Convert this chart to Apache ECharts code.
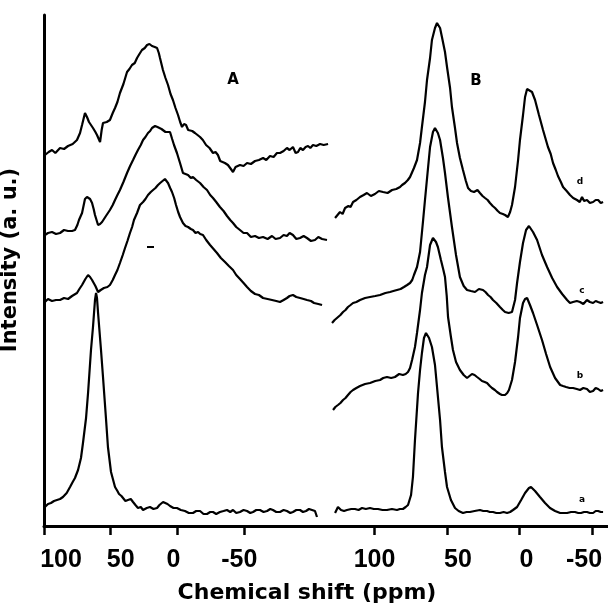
<!DOCTYPE html>
<html>
<head>
<meta charset="utf-8">
<script src="https://cdn.jsdelivr.net/npm/echarts@6/dist/echarts.min.js"></script>
<style>html,body{margin:0;padding:0;background:#fff}#c{width:608px;height:606px}</style>
</head>
<body>
<div id="c"></div>
<script>
// ---- tick labels (ppm) ----
const tickValuesA = [100, 50, 0, -50];
const tickValuesB = [100, 50, 0, -50];
const seriesNames = ['a', 'b', 'c', 'd'];
const panelNames = ['A', 'B'];

// ---- Panel A spectra: [chemical shift (ppm), intensity (a.u.)] ----
const specA_d = [[99.3,371],[96.5,374],[94.0,376],[91.5,373],[88.0,378],[85.0,377],[82.0,380],[78.5,382],[75.3,386],[73.0,393],[71.5,401],[69.3,413],[67.8,409],[66.3,404],[63.3,398],[61.5,394],[60.3,391],[58.0,384],[56.8,396],[55.8,403],[53.0,404],[50.6,406],[48.5,413],[46.8,418],[45.0,424],[43.1,433],[40.5,442],[37.8,454],[36.0,457],[34.1,461],[32.0,463],[30.3,468],[28.5,472],[26.6,476],[24.5,478],[22.8,481],[21.0,482],[19.1,480],[17.0,479],[15.3,478],[14.0,473],[13.1,468],[10.9,456],[9.0,448],[7.1,441],[5.2,432],[3.4,426],[1.5,418],[-0.4,411],[-2.0,404],[-3.4,399],[-4.9,402],[-6.4,401],[-8.0,396],[-9.4,398],[-11.0,395],[-13.1,393],[-15.0,391],[-16.9,389],[-19.0,386],[-21.4,381],[-24.0,378],[-26.6,373],[-28.5,374],[-30.3,371],[-32.0,365],[-33.3,366],[-35.5,363],[-37.8,361],[-40.0,357],[-41.6,354],[-43.5,359],[-46.8,361],[-49.5,360],[-52.1,363],[-55.0,362],[-58.1,365],[-61.0,366],[-64.1,368],[-66.5,366],[-69.3,370],[-72.0,369],[-74.5,373],[-76.8,373],[-79.5,375],[-82.0,378],[-84.0,376],[-86.5,379],[-88.5,373],[-90.3,374],[-92.0,378],[-94.0,376],[-96.0,379],[-97.8,380],[-99.5,378],[-101.5,381],[-104.0,380],[-106.8,382],[-109.5,381],[-112.8,382]];
const specA_c = [[99.3,291],[97.0,293],[94.0,294],[91.0,292],[88.0,293],[85.0,296],[82.0,295],[79.0,295],[76.8,296],[75.0,301],[73.8,306],[71.5,313],[69.3,327],[67.8,329],[65.5,327],[64.0,323],[62.8,317],[61.8,311],[59.5,301],[58.0,302],[56.5,304],[53.6,310],[50.6,316],[48.5,321],[46.8,326],[45.0,331],[43.1,336],[40.5,344],[37.8,353],[35.5,360],[33.3,366],[31.5,371],[29.6,376],[27.5,381],[25.8,386],[24.0,389],[22.1,393],[20.5,395],[19.1,398],[16.8,400],[15.0,399],[13.8,398],[12.0,397],[10.9,396],[9.0,394],[7.9,395],[5.6,394],[4.0,387],[2.6,381],[0.4,373],[-1.9,363],[-4.1,353],[-6.0,352],[-7.9,351],[-10.0,348],[-11.6,349],[-14.0,346],[-16.9,343],[-19.5,339],[-22.1,336],[-24.5,331],[-26.6,328],[-29.0,324],[-31.8,319],[-34.5,315],[-37.1,310],[-39.5,306],[-41.6,303],[-44.0,299],[-46.8,296],[-49.5,293],[-52.1,293],[-55.0,289],[-58.1,290],[-61.0,288],[-64.1,289],[-67.5,287],[-70.8,290],[-73.5,287],[-76.8,288],[-79.5,291],[-82.0,290],[-84.0,293],[-86.5,291],[-89.0,287],[-91.8,288],[-94.5,290],[-97.0,288],[-100.0,285],[-103.0,286],[-105.5,289],[-108.3,287],[-112.0,286]];
const specA_b = [[99.3,224],[97.0,227],[94.0,225],[91.0,226],[88.0,226],[85.0,228],[82.0,227],[79.0,230],[75.3,233],[73.5,237],[71.5,241],[69.0,247],[67.0,251],[65.5,249],[64.0,246],[61.5,240],[59.5,234],[57.5,236],[55.1,238],[52.5,239],[50.6,241],[48.5,246],[46.8,251],[45.0,256],[43.1,263],[41.0,271],[39.3,278],[37.5,285],[35.6,293],[34.0,299],[32.6,306],[30.3,313],[28.1,321],[25.8,324],[24.0,327],[22.1,331],[20.0,334],[18.3,336],[16.5,338],[14.6,341],[13.0,343],[11.6,345],[9.4,347],[7.1,343],[5.5,338],[4.1,334],[2.5,328],[1.1,321],[-0.5,314],[-1.9,309],[-4.1,303],[-6.0,300],[-7.9,299],[-10.0,297],[-11.6,296],[-13.5,293],[-15.4,294],[-17.0,292],[-19.1,291],[-21.5,286],[-24.4,281],[-27.0,277],[-29.6,273],[-32.5,268],[-35.6,264],[-38.5,260],[-41.6,256],[-44.0,251],[-46.8,247],[-49.5,243],[-52.1,239],[-55.0,235],[-58.1,232],[-61.0,231],[-64.1,228],[-67.5,227],[-70.8,226],[-74.0,225],[-76.8,224],[-79.5,226],[-82.0,228],[-84.0,230],[-86.5,231],[-89.0,229],[-91.8,228],[-94.5,227],[-97.0,226],[-100.0,225],[-102.3,223],[-105.5,222],[-108.3,221]];
const specA_a = [[99.3,19],[97.0,22],[94.8,23],[92.5,25],[90.3,26],[88.0,27],[85.8,29],[83.0,33],[80.5,39],[78.5,44],[76.8,48],[74.5,56],[72.3,68],[70.8,83],[68.5,108],[67.0,133],[64.8,176],[63.3,199],[61.8,226],[61.0,233],[60.3,228],[59.5,213],[57.3,176],[55.8,149],[53.6,108],[52.1,79],[49.8,54],[46.8,39],[45.0,35],[43.8,32],[42.0,30],[40.8,28],[39.0,25],[37.1,26],[35.0,27],[33.3,24],[31.5,21],[29.6,18],[27.5,19],[25.8,16],[23.0,18],[20.6,19],[18.0,17],[15.3,18],[13.5,21],[12.4,22],[10.8,24],[9.4,24],[7.5,22],[5.6,20],[3.0,18],[0.4,18],[-2.5,16],[-5.6,15],[-8.5,13],[-11.6,13],[-14.0,15],[-16.9,15],[-19.5,12],[-22.1,12],[-24.5,14],[-26.6,14],[-29.0,12],[-31.8,14],[-34.5,15],[-37.1,16],[-39.5,14],[-41.6,16],[-44.0,13],[-46.8,14],[-49.5,16],[-52.1,15],[-54.5,13],[-56.6,14],[-59.0,16],[-61.8,16],[-64.5,14],[-67.1,15],[-69.5,17],[-71.5,16],[-74.0,14],[-76.8,14],[-79.5,16],[-82.0,15],[-84.5,13],[-86.5,14],[-89.0,16],[-91.8,16],[-94.0,14],[-96.3,15],[-98.5,17],[-100.8,16],[-103.0,15],[-104.5,9]];

// ---- Panel B spectra ----
const specB_d = [[127.2,308],[125.5,311],[123.8,314],[122.0,312],[120.3,318],[118.0,320],[116.5,319],[114.8,324],[112.5,326],[110.0,329],[107.5,331],[105.2,333],[102.5,330],[99.7,332],[97.0,335],[94.1,334],[91.0,333],[87.9,336],[85.0,337],[82.4,339],[81.0,341],[79.0,343],[77.0,346],[75.5,349],[72.8,358],[70.7,366],[68.6,383],[67.3,399],[65.2,424],[63.8,446],[61.7,468],[60.4,486],[58.3,498],[56.9,503],[54.8,498],[53.5,489],[51.4,474],[50.0,459],[47.9,438],[46.6,419],[44.5,398],[43.1,383],[41.1,368],[39.0,356],[37.0,345],[35.5,338],[33.5,335],[31.4,334],[29.0,336],[27.3,333],[25.5,330],[23.8,328],[22.0,326],[20.4,323],[18.5,320],[16.9,318],[15.0,315],[13.5,313],[11.5,312],[10.0,311],[8.0,309],[6.5,314],[5.2,321],[3.1,339],[1.0,366],[-0.3,386],[-2.4,411],[-3.8,429],[-5.2,437],[-6.5,439],[-8.6,434],[-10.7,426],[-13.4,411],[-16.2,396],[-19.6,379],[-21.5,372],[-23.1,363],[-25.0,356],[-26.5,350],[-28.5,344],[-30.0,339],[-32.5,335],[-34.8,331],[-37.0,328],[-39.6,326],[-41.5,324],[-43.1,329],[-44.5,325],[-46.5,326],[-48.5,323],[-50.7,324],[-52.5,326],[-54.2,326],[-56.0,323],[-57.6,324]];
const specB_c = [[129.3,203],[127.5,206],[125.9,208],[123.5,211],[121.7,214],[120.0,216],[118.3,219],[116.5,221],[114.8,223],[112.5,224],[110.0,226],[106.5,228],[103.1,229],[99.5,230],[96.2,231],[92.5,233],[89.3,234],[87.0,235],[84.5,236],[82.0,237],[79.7,239],[77.5,241],[75.5,243],[74.0,246],[72.8,251],[70.7,259],[68.6,274],[66.6,304],[65.2,326],[63.1,358],[61.7,379],[59.7,394],[58.3,398],[56.3,393],[54.8,386],[52.8,368],[51.4,353],[49.3,328],[46.6,299],[43.8,271],[41.1,249],[38.5,240],[36.2,236],[33.5,235],[30.7,234],[28.0,237],[25.2,236],[23.5,234],[21.7,231],[20.0,229],[18.3,226],[16.0,223],[13.5,219],[11.5,216],[10.0,214],[7.5,213],[5.2,214],[3.1,226],[1.7,243],[-0.3,264],[-2.4,283],[-4.5,296],[-6.5,300],[-9.3,294],[-12.1,286],[-15.5,271],[-19.0,259],[-22.5,248],[-25.9,239],[-29.4,232],[-32.8,226],[-34.8,223],[-36.9,224],[-39.5,225],[-41.7,224],[-44.0,222],[-46.5,226],[-48.5,224],[-50.7,223],[-52.5,225],[-54.2,224],[-56.0,223],[-57.6,224]];
const specB_b = [[128.6,116],[127.0,119],[125.2,121],[123.5,123],[121.7,126],[120.0,128],[118.3,131],[116.5,134],[114.8,136],[112.5,138],[110.0,140],[106.5,142],[103.1,143],[99.5,145],[96.2,146],[94.0,148],[91.4,149],[88.5,148],[85.9,149],[83.0,152],[80.4,151],[78.5,152],[76.9,154],[75.5,158],[74.1,166],[72.1,179],[70.7,193],[68.6,216],[67.3,233],[65.2,251],[63.8,259],[61.7,281],[59.7,288],[57.6,284],[56.3,279],[54.2,266],[52.5,256],[51.4,249],[50.2,230],[49.3,209],[47.3,189],[45.9,176],[43.8,164],[41.1,156],[38.5,151],[36.2,148],[34.5,150],[32.8,152],[31.0,151],[29.3,149],[27.5,147],[25.9,145],[24.0,144],[22.4,143],[20.5,140],[19.0,138],[17.0,136],[15.5,134],[13.5,132],[12.1,131],[10.0,131],[8.5,133],[7.3,136],[5.2,146],[3.1,164],[1.0,189],[-0.3,208],[-2.4,223],[-3.8,227],[-5.2,228],[-7.2,221],[-9.3,213],[-12.1,201],[-15.5,186],[-18.3,172],[-21.1,159],[-24.5,148],[-28.0,141],[-30.0,140],[-32.1,139],[-34.5,138],[-36.9,138],[-39.5,137],[-41.7,136],[-44.0,138],[-46.5,137],[-48.5,134],[-50.7,135],[-52.5,138],[-54.2,137],[-56.0,135],[-57.6,136]];
const specB_a = [[127.2,13],[125.2,19],[123.1,16],[121.0,15],[119.0,16],[116.0,17],[113.5,17],[111.0,16],[108.6,18],[106.0,17],[103.1,18],[100.5,17],[97.6,17],[94.5,16],[91.4,16],[88.0,17],[84.5,16],[82.5,17],[80.4,17],[78.5,19],[76.9,21],[74.8,31],[73.5,49],[72.1,86],[70.0,133],[68.6,156],[67.3,173],[65.9,188],[64.5,193],[62.4,188],[60.4,179],[58.3,161],[56.9,139],[54.8,106],[53.5,79],[51.4,54],[50.0,39],[47.3,26],[44.5,18],[42.0,15],[39.0,13],[36.5,14],[34.2,14],[31.0,15],[27.3,16],[25.0,15],[22.4,15],[20.5,14],[18.3,14],[16.0,13],[13.5,13],[11.0,14],[8.6,13],[6.5,14],[4.5,16],[1.7,19],[-1.1,26],[-3.8,33],[-6.5,38],[-7.9,39],[-10.7,35],[-14.1,29],[-17.6,23],[-21.0,18],[-24.5,15],[-28.0,13],[-30.5,13],[-32.8,13],[-35.5,14],[-38.2,14],[-40.5,13],[-42.4,13],[-44.5,14],[-46.5,14],[-48.5,13],[-50.7,13],[-52.5,15],[-54.2,15],[-56.0,14],[-57.6,14]];

// ---- styling / layout ----
const chart = echarts.init(document.getElementById('c'), null, {renderer: 'canvas'});
const tickFont = {fontFamily: 'Liberation Sans', fontWeight: 'bold', fontSize: 25, color: '#000'};
// horizontal nudges of tick labels (px) to follow the scanned figure
const labelShiftA = {'100': 17, '50': 10, '0': -4, '-50': -5};
const labelShiftB = {'100': 0, '50': 11, '0': 7, '-50': -8};
function richFor(shifts, prefix) {
  const rich = {};
  Object.keys(shifts).forEach((k, i) => {
    const s = shifts[k];
    rich[prefix + i] = Object.assign({}, tickFont, {padding: s >= 0 ? [0, 0, 0, 2 * s] : [0, -2 * s, 0, 0]});
  });
  return rich;
}
function fmtFor(shifts, prefix) {
  const keys = Object.keys(shifts);
  return function (v) {
    const i = keys.indexOf(String(v));
    return i >= 0 ? '{' + prefix + i + '|' + v + '}' : String(v);
  };
}
function xAxisFor(gridIndex, min, max, ticks, shifts, prefix) {
  return {
    type: 'value', gridIndex, min, max, inverse: true,
    axisLine: {show: true, onZero: false, lineStyle: {color: '#000', width: 3}},
    axisTick: {show: true, customValues: ticks, length: 9, lineStyle: {color: '#000', width: 2.5}},
    axisLabel: Object.assign({show: true, customValues: ticks, margin: 22,
      formatter: fmtFor(shifts, prefix), rich: richFor(shifts, prefix)}, tickFont),
    splitLine: {show: false}
  };
}
function yAxisFor(gridIndex, showLine) {
  return {
    type: 'value', gridIndex, min: 0, max: 511, position: 'left',
    axisLine: {show: showLine, onZero: false, lineStyle: {color: '#000', width: 3}},
    axisTick: {show: false}, axisLabel: {show: false}, splitLine: {show: false}
  };
}
function lineSeries(name, data, idx) {
  return {
    name, type: 'line', xAxisIndex: idx, yAxisIndex: idx, data,
    showSymbol: false, symbol: 'none', smooth: false, animation: false,
    lineStyle: {color: '#000', width: 2.2}, z: 3
  };
}

const option = {
  backgroundColor: '#fff',
  animation: false,
  grid: [
    {left: 44, top: 15, width: 287, bottom: 80},
    {left: 331, top: 15, width: 277, bottom: 80}
  ],
  xAxis: [
    xAxisFor(0, -115, 100, tickValuesA, labelShiftA, 'a'),
    xAxisFor(1, -61, 130, tickValuesB, labelShiftB, 'b')
  ],
  yAxis: [yAxisFor(0, true), yAxisFor(1, false)],
  series: [
    lineSeries('A-a', specA_a, 0), lineSeries('A-b', specA_b, 0),
    lineSeries('A-c', specA_c, 0), lineSeries('A-d', specA_d, 0),
    lineSeries('B-a', specB_a, 1), lineSeries('B-b', specB_b, 1),
    lineSeries('B-c', specB_c, 1), lineSeries('B-d', specB_d, 1)
  ],
  graphic: [
    {type: 'text', x: 307, y: 593, style: {text: 'Chemical shift (ppm)', fill: '#000',
      font: 'bold 22px "DejaVu Sans"', textAlign: 'center', textVerticalAlign: 'middle'}},
    {type: 'text', x: 11, y: 260, rotation: Math.PI / 2, style: {text: 'Intensity (a. u.)', fill: '#000',
      font: 'bold 21px "DejaVu Sans"', textAlign: 'center', textVerticalAlign: 'middle'}},
    {type: 'text', x: 233, y: 80, style: {text: panelNames[0], fill: '#000',
      font: 'bold 15px "DejaVu Sans"', textAlign: 'center', textVerticalAlign: 'middle'}},
    {type: 'text', x: 476, y: 81, style: {text: panelNames[1], fill: '#000',
      font: 'bold 15px "DejaVu Sans"', textAlign: 'center', textVerticalAlign: 'middle'}},
    {type: 'text', x: 582, y: 500, style: {text: seriesNames[0], fill: '#000',
      font: 'bold 9px "DejaVu Sans"', textAlign: 'center', textVerticalAlign: 'middle'}},
    {type: 'text', x: 580, y: 376, style: {text: seriesNames[1], fill: '#000',
      font: 'bold 9px "DejaVu Sans"', textAlign: 'center', textVerticalAlign: 'middle'}},
    {type: 'text', x: 582, y: 291, style: {text: seriesNames[2], fill: '#000',
      font: 'bold 9px "DejaVu Sans"', textAlign: 'center', textVerticalAlign: 'middle'}},
    {type: 'text', x: 580, y: 182, style: {text: seriesNames[3], fill: '#000',
      font: 'bold 9px "DejaVu Sans"', textAlign: 'center', textVerticalAlign: 'middle'}},
    {type: 'rect', shape: {x: 147, y: 246, width: 7, height: 2}, style: {fill: '#000'}}
  ]
};
chart.setOption(option);
</script>
</body>
</html>
